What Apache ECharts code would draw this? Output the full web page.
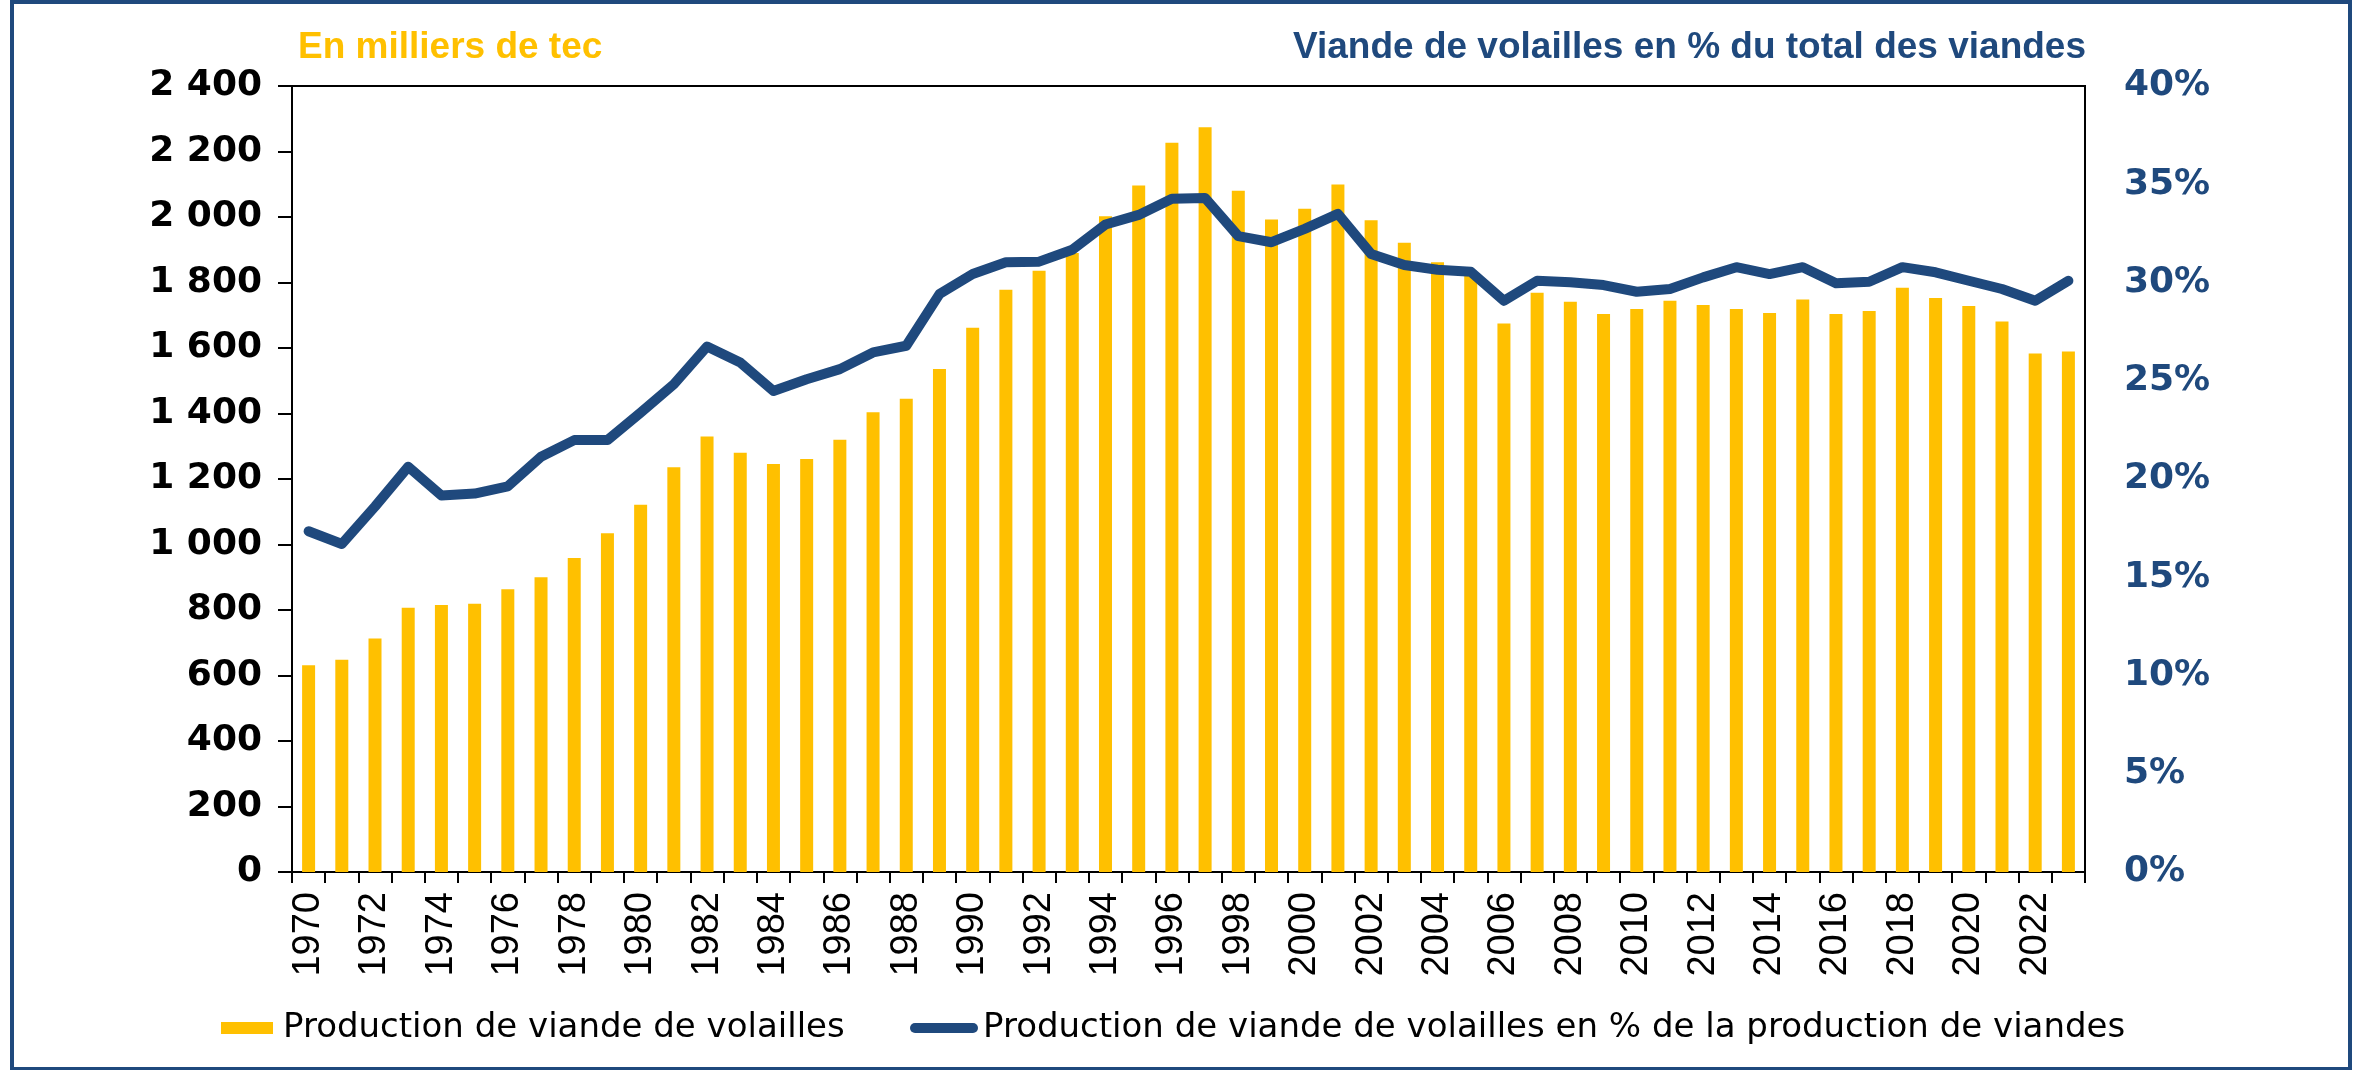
<!DOCTYPE html>
<html>
<head>
<meta charset="utf-8">
<script src="https://cdn.jsdelivr.net/npm/echarts@6/dist/echarts.min.js"></script>
<style>
  html, body { margin: 0; padding: 0; background: #fff; }
  #chart { width: 2357px; height: 1070px; }
</style>
</head>
<body>
<div id="chart"></div>
<script>
var years = ['1970', '1971', '1972', '1973', '1974', '1975', '1976', '1977', '1978', '1979',
  '1980', '1981', '1982', '1983', '1984', '1985', '1986', '1987', '1988', '1989',
  '1990', '1991', '1992', '1993', '1994', '1995', '1996', '1997', '1998', '1999',
  '2000', '2001', '2002', '2003', '2004', '2005', '2006', '2007', '2008', '2009',
  '2010', '2011', '2012', '2013', '2014', '2015', '2016', '2017', '2018', '2019',
  '2020', '2021', '2022', '2023'];

// milliers de tec
var production = [631, 648, 713, 807, 815, 819, 863, 900, 959, 1034,
  1121, 1236, 1330, 1280, 1246, 1261, 1320, 1404, 1445, 1536,
  1662, 1778, 1836, 1890, 2002, 2096, 2227, 2274, 2080, 1992,
  2025, 2099, 1990, 1921, 1862, 1830, 1675, 1769, 1741, 1704,
  1719, 1744, 1731, 1719, 1707, 1748, 1704, 1713, 1784, 1753,
  1728, 1681, 1583, 1589];

// % de la production de viandes
var part = [17.34, 16.69, 18.6, 20.62, 19.16, 19.26, 19.63, 21.13, 21.98, 21.98,
  23.38, 24.82, 26.74, 25.93, 24.48, 25.08, 25.59, 26.44, 26.78, 29.41,
  30.43, 31.03, 31.06, 31.67, 32.95, 33.44, 34.26, 34.30, 32.36, 32.05,
  32.73, 33.49, 31.45, 30.89, 30.65, 30.55, 29.07, 30.09, 30.01, 29.87,
  29.53, 29.67, 30.26, 30.78, 30.43, 30.78, 29.96, 30.04, 30.78, 30.52,
  30.09, 29.67, 29.07, 30.09];

var nomBarres = 'Production de viande de volailles';
var nomLigne = 'Production de viande de volailles en % de la production de viandes';

var jaune = '#ffc000';
var bleu = '#1f497d';

var chart = echarts.init(document.getElementById('chart'));

function milliers(v) {
  if (v >= 1000) {
    return Math.floor(v / 1000) + ' ' + String(v % 1000).padStart(3, '0');
  }
  return String(v);
}

var option = {
  backgroundColor: '#fff',
  animation: false,
  grid: {
    left: 292,
    right: 272,
    top: 86,
    bottom: 198,
    show: true,
    borderColor: '#000',
    borderWidth: 2,
    backgroundColor: 'transparent'
  },
  graphic: [
    {
      type: 'rect',
      shape: { x: 12, y: 2, width: 2338, height: 1067 },
      style: { fill: 'none', stroke: bleu, lineWidth: 4 }
    },
    {
      type: 'text',
      x: 298,
      y: 48,
      style: {
        text: 'En milliers de tec',
        fill: jaune,
        font: 'bold 37px "Liberation Sans", Arial, sans-serif',
        textAlign: 'left',
        textVerticalAlign: 'middle',
        align: 'left',
        verticalAlign: 'middle'
      }
    },
    {
      type: 'text',
      x: 2086,
      y: 48,
      style: {
        text: 'Viande de volailles en % du total des viandes',
        fill: bleu,
        font: 'bold 37px "Liberation Sans", Arial, sans-serif',
        textAlign: 'right',
        textVerticalAlign: 'middle',
        align: 'right',
        verticalAlign: 'middle'
      }
    }
  ],
  legend: [
    {
      left: 216,
      top: 1006,
      itemWidth: 52,
      itemHeight: 12,
      data: [{ name: nomBarres, icon: 'rect' }],
      textStyle: {
        color: '#000',
        fontSize: 34,
        fontFamily: '"DejaVu Sans", sans-serif',
        padding: [0, 0, 0, 5]
      }
    },
    {
      left: 905,
      top: 1006,
      itemWidth: 68,
      itemHeight: 10,
      data: [{ name: nomLigne, icon: 'path://M5,0H63A5,5,0,0,1,63,10H5A5,5,0,0,1,5,0Z' }],
      textStyle: {
        color: '#000',
        fontSize: 34,
        fontFamily: '"DejaVu Sans", sans-serif'
      }
    }
  ],
  xAxis: {
    type: 'category',
    data: years,
    boundaryGap: true,
    axisLine: { lineStyle: { color: '#000', width: 2 } },
    axisTick: {
      show: true,
      interval: 0,
      length: 11,
      lineStyle: { color: '#000', width: 2 }
    },
    axisLabel: {
      interval: 1,
      rotate: 90,
      margin: 20,
      color: '#000',
      fontSize: 38,
      fontFamily: '"Liberation Sans", Arial, sans-serif'
    },
    splitLine: { show: false }
  },
  yAxis: [
    {
      type: 'value',
      min: 0,
      max: 2400,
      interval: 200,
      position: 'left',
      axisLine: { show: true, lineStyle: { color: '#000', width: 2 } },
      axisTick: { show: true, length: 14, lineStyle: { color: '#000', width: 2 } },
      axisLabel: {
        margin: 30,
        color: '#000',
        fontSize: 36,
        fontWeight: 'bold',
        fontFamily: '"DejaVu Sans", sans-serif',
        formatter: milliers
      },
      splitLine: { show: false }
    },
    {
      type: 'value',
      min: 0,
      max: 40,
      interval: 5,
      position: 'right',
      axisLine: { show: true, lineStyle: { color: '#000', width: 2 } },
      axisTick: { show: false },
      axisLabel: {
        margin: 39,
        color: bleu,
        fontSize: 36,
        fontWeight: 'bold',
        fontFamily: '"DejaVu Sans", sans-serif',
        formatter: '{value}%'
      },
      splitLine: { show: false }
    }
  ],
  series: [
    {
      name: nomBarres,
      type: 'bar',
      data: production,
      yAxisIndex: 0,
      barWidth: 13,
      itemStyle: { color: jaune }
    },
    {
      name: nomLigne,
      type: 'line',
      data: part,
      yAxisIndex: 1,
      showSymbol: false,
      symbol: 'none',
      lineStyle: { color: bleu, width: 10, join: 'round', cap: 'round' },
      itemStyle: { color: bleu },
      z: 3
    }
  ]
};

chart.setOption(option);
</script>
</body>
</html>
